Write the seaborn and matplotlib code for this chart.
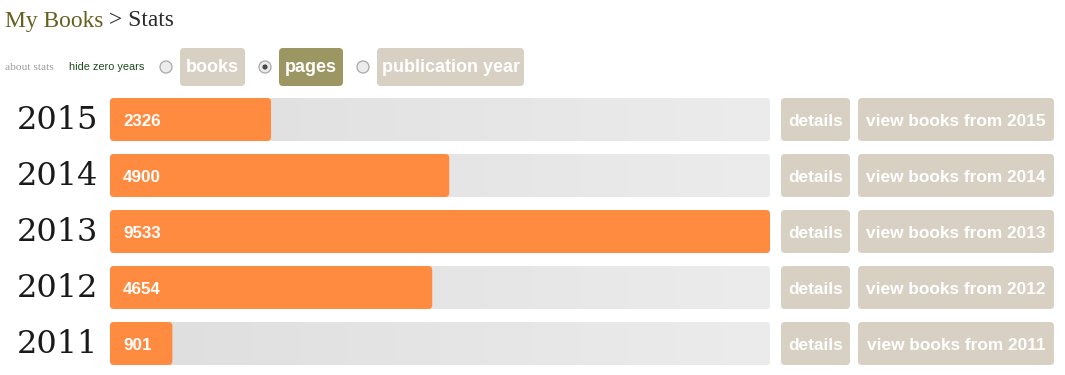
import matplotlib
matplotlib.use("Agg")
import matplotlib.pyplot as plt
import seaborn as sns
import numpy as np
import pandas as pd
from matplotlib.patches import FancyBboxPatch, Circle
from matplotlib.colors import LinearSegmentedColormap

# ---- data ----
years = ["2015", "2014", "2013", "2012", "2011"]
pages = [2326, 4900, 9533, 4654, 901]
options = ["books", "pages", "publication year"]
selected_option = "pages"
breadcrumb = ["My Books", " > Stats"]
links = ["about stats", "hide zero years"]
row_buttons = ["details", "view books from {}"]

# ---- styles ----
ORANGE = "#FF8B41"
TRACK = "#E4E4E4"
BEIGE = "#D7D0C3"
OLIVE = "#9C9762"
SERIF = "Liberation Serif"
SANS = "Liberation Sans"

W, H = 1065, 375
sns.set_theme(style="white")
plt.rcParams["font.family"] = ["DejaVu Sans"]
fig = plt.figure(figsize=(W / 100, H / 100), dpi=100)
fig.patch.set_facecolor("white")

# overlay axes in pixel coordinates
ov = fig.add_axes([0, 0, 1, 1])
ov.set_xlim(0, W)
ov.set_ylim(H, 0)
ov.axis("off")
ov.patch.set_alpha(0)

def pt(px):
    return px * 72 / 100

def rbox(ax, x, y, w, h, color, r=4, z=1):
    p = FancyBboxPatch((x, y), w, h, boxstyle=f"round,pad=0,rounding_size={r}",
                       facecolor=color, edgecolor="none", zorder=z)
    ax.add_patch(p)
    return p

# breadcrumb
t1 = ov.text(5, 21, breadcrumb[0], fontsize=pt(23.5), family=SERIF, color="#656020",
             va="center", ha="left")
fig.canvas.draw()
bb = t1.get_window_extent()
ov.text(bb.x1, 21, breadcrumb[1], fontsize=pt(23.5), family=SERIF, color="#2a2a2a",
        va="center", ha="left")

# links
ov.text(5, 67, links[0], fontsize=pt(11.5), family=SERIF, color="#9a9a9a", va="center")
ov.text(69, 67, links[1], fontsize=pt(11), family=SANS, color="#1e4a1e", va="center")

# option buttons
opt_boxes = [(180, 65), (279, 64), (377, 147)]
radio_x = [166, 265, 363]
for (bx, bw), rx, name in zip(opt_boxes, radio_x, options):
    sel = name == selected_option
    rbox(ov, bx, 48, bw, 38, OLIVE if sel else BEIGE, r=4)
    ov.text(bx + bw / 2, 68, name, fontsize=pt(18), family=SANS, weight="bold",
            color="white", ha="center", va="center")
    ov.add_patch(Circle((rx, 67), 6, facecolor="#ececec", edgecolor="#a8a8a8", lw=0.9))
    if sel:
        ov.add_patch(Circle((rx, 67), 2.6, facecolor="#4a4a4a", edgecolor="none"))

# row buttons
ROW_TOP, PITCH, BAR_H = 98, 56, 43
for i, yr in enumerate(years):
    top = ROW_TOP + PITCH * i
    rbox(ov, 781, top, 69, BAR_H, BEIGE, r=4)
    ov.text(781 + 69 / 2, top + BAR_H / 2 + 1.5, row_buttons[0], fontsize=pt(17.3),
            family=SANS, weight="bold", color="white", ha="center", va="center")
    rbox(ov, 858, top, 196, BAR_H, BEIGE, r=4)
    ov.text(858 + 98, top + BAR_H / 2 + 1.5, row_buttons[1].format(yr), fontsize=pt(17.3),
            family=SANS, weight="bold", color="white", ha="center", va="center")

# bar axes
ax_l, ax_r = 110, 770
ax_top, ax_bot = ROW_TOP, ROW_TOP + PITCH * (len(years) - 1) + BAR_H
ax = fig.add_axes([ax_l / W, (H - ax_bot) / H, (ax_r - ax_l) / W, (ax_bot - ax_top) / H])
ax.patch.set_alpha(0)

df = pd.DataFrame({"year": years, "pages": pages})
df["track"] = df["pages"].max()
bw = BAR_H / PITCH
sns.barplot(data=df, y="year", x="track", order=years, orient="h", color=TRACK,
            width=bw, ax=ax, saturation=1)
n_track = len(ax.patches)
sns.barplot(data=df, y="year", x="pages", order=years, orient="h", color=ORANGE,
            width=bw, ax=ax, saturation=1)
half = bw / 2
ax.axis("off")

# rounded corners
xu = df["pages"].max() / (ax_r - ax_l)   # data units per px (x)
yu = 1 / PITCH                           # data units per px (y)
patches = list(ax.patches)
grad = np.linspace(0, 1, 256).reshape(1, -1)
gcmap = LinearSegmentedColormap.from_list("g", ["#DEDEDE", "#ECECEC"])
for k, p in enumerate(patches):
    x, y, w, h = p.get_x(), p.get_y(), p.get_width(), p.get_height()
    fc = p.get_facecolor()
    p.remove()
    nb = FancyBboxPatch((x, y), w, h, boxstyle=f"round,pad=0,rounding_size={4 * xu}",
                        mutation_aspect=yu / xu, facecolor=fc, edgecolor="none",
                        zorder=2 if k >= n_track else 1)
    ax.add_patch(nb)
    if k < n_track:
        im = ax.imshow(grad, cmap=gcmap, aspect="auto", extent=(x, x + w, y + h, y),
                       zorder=1.5, interpolation="bilinear")
        im.set_clip_path(nb)
ax.set_xlim(0, df["pages"].max())
ax.set_ylim(len(years) - 1 + half, -half)

for i, (yr, v) in enumerate(zip(years, pages)):
    ax.annotate(str(v), xy=(0, i), xytext=(13, -1.5), textcoords="offset pixels",
                fontsize=pt(17), family=SANS, weight="bold", color="white",
                ha="left", va="center", zorder=3)
    ax.annotate(yr, xy=(0, i), xytext=(-12, -1), textcoords="offset pixels",
                fontsize=pt(32), family="DejaVu Serif", color="#1a1a1a",
                ha="right", va="center", annotation_clip=False)

fig.savefig("out.png", dpi=100, facecolor="white")
